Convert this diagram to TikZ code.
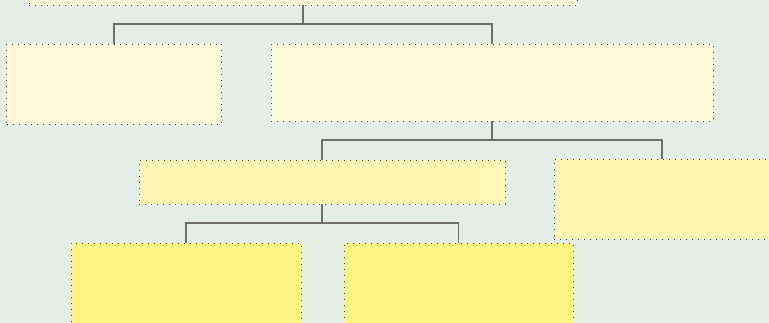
\documentclass[tikz,border=0pt]{standalone}
\begin{document}
\begin{tikzpicture}[x=1pt,y=-1pt,
  box/.style={draw=black!75, line width=0.9pt, dash pattern=on 1pt off 5pt, inner sep=0pt, rectangle},
  lvla/.style={box, fill=lva},
  lvlb/.style={box, fill=lvb},
  lvlc/.style={box, fill=lvc},
  conn/.style={draw=linec, line width=1.4pt}]
\definecolor{bgc}{HTML}{E4EEE4}
\definecolor{lva}{HTML}{FEFAD7}
\definecolor{lvb}{HTML}{FFF8B4}
\definecolor{lvc}{HTML}{FFF583}
\definecolor{linec}{HTML}{6E6E6E}
\useasboundingbox (0,0) rectangle (769,323);
\fill[bgc] (0,0) rectangle (769,323);
\clip (0,0) rectangle (769,323);
\node[lvla, minimum width=548pt, minimum height=35pt] (root) at (303,-12.5) {};
\node[lvla, minimum width=215pt, minimum height=80pt] (A) at (114,84) {};
\node[lvla, minimum width=442pt, minimum height=77pt] (B) at (492,82.5) {};
\node[lvlb, minimum width=366pt, minimum height=44pt] (C) at (322,182) {};
\node[lvlb, minimum width=216pt, minimum height=80pt] (D) at (662,199) {};
\node[lvlc, minimum width=230pt, minimum height=80pt] (E) at (186,283) {};
\node[lvlc, minimum width=229pt, minimum height=80pt] (F) at (458.5,283) {};
\coordinate (r1) at (303,24);
\coordinate (b1) at (492,140);
\coordinate (c1) at (322,223);
\draw[conn] (root.south) -- (r1) -| (A.north);
\draw[conn] (r1) -| (B.north);
\draw[conn] (B.south) -- (b1) -| (C.north);
\draw[conn] (b1) -| (D.north);
\draw[conn] (C.south) -- (c1) -| (E.north);
\draw[conn] (c1) -| (F.north);
\end{tikzpicture}
\end{document}
